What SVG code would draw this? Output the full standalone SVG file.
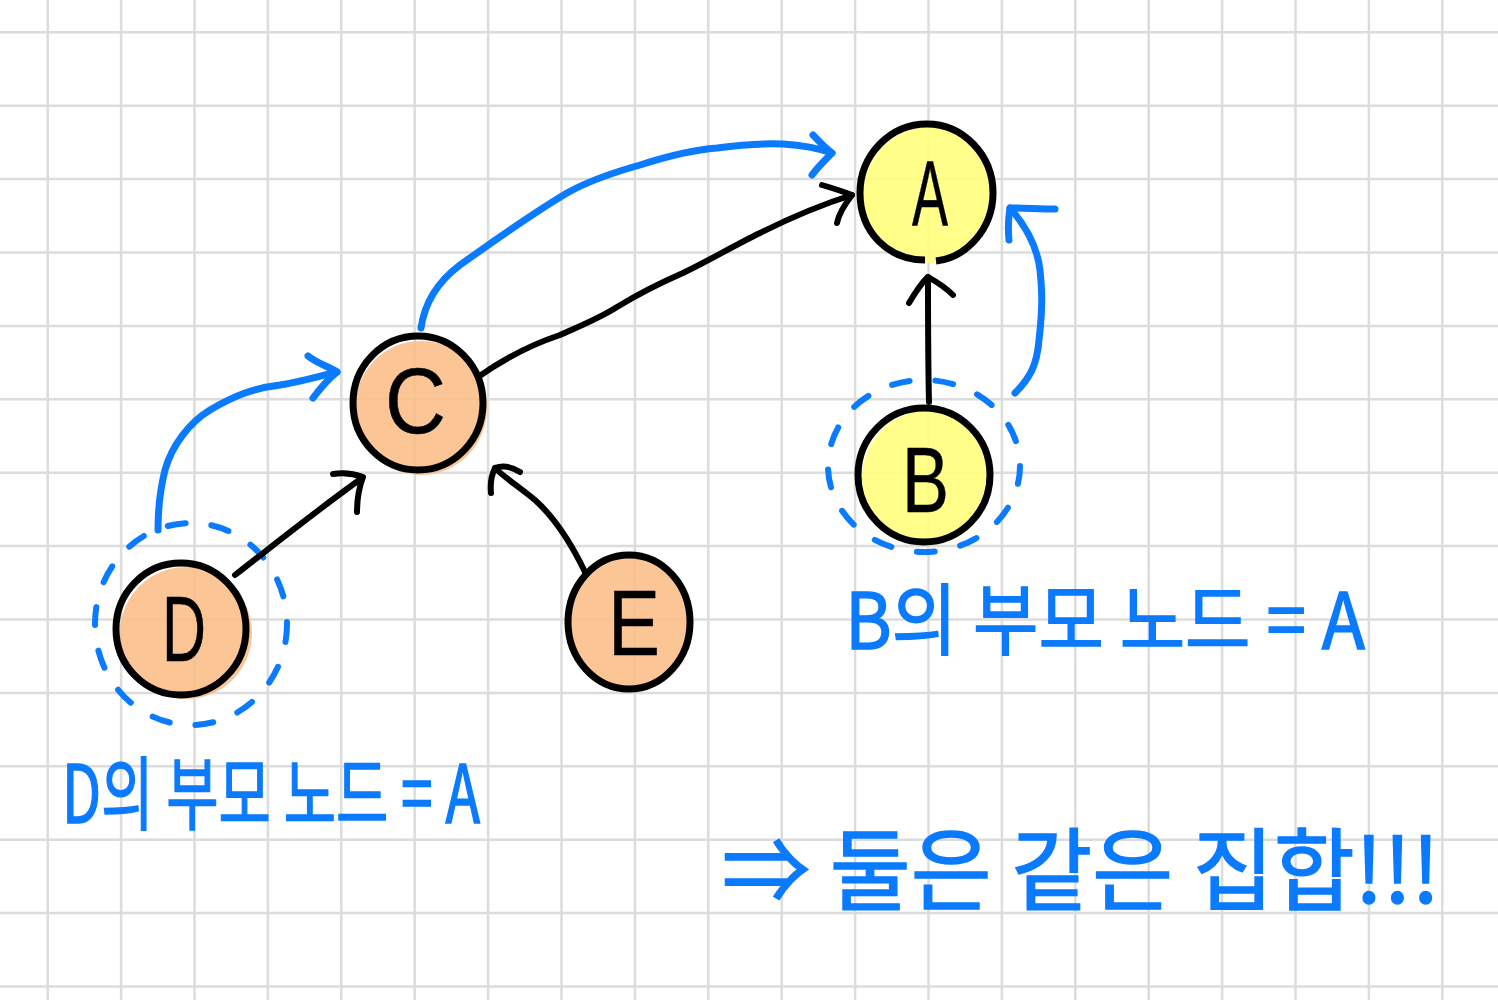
<svg xmlns="http://www.w3.org/2000/svg" width="1498" height="1000" viewBox="0 0 1498 1000">
<style>
.grid line{stroke:#dcdcdc;stroke-width:2.5}
.outline{fill:none;stroke:#000;stroke-width:7}
.fo{fill:#fcbd88;fill-opacity:0.88}
.fy{fill:#ffff7a;fill-opacity:0.88}
.lt{font-family:"Liberation Sans",Arial,sans-serif;font-size:92px;fill:#000;stroke:#000;stroke-width:0.5}
.bk{fill:none;stroke:#000;stroke-width:6;stroke-linecap:round;stroke-linejoin:round}
.bl{fill:none;stroke:#0a7aff;stroke-width:7;stroke-linecap:round;stroke-linejoin:round}
.dash{fill:none;stroke:#0a7aff;stroke-width:6;stroke-linecap:round;stroke-dasharray:18 26}
.lbl{font-family:"Noto Sans CJK KR","Liberation Sans",sans-serif;font-weight:normal;fill:#0a7aff;stroke:#0a7aff;stroke-width:1.5}
</style>
<rect width="1498" height="1000" fill="#fff"/>
<g class="grid">
<line x1="47.7" y1="0" x2="47.7" y2="1000"/><line x1="121.1" y1="0" x2="121.1" y2="1000"/><line x1="194.5" y1="0" x2="194.5" y2="1000"/><line x1="267.9" y1="0" x2="267.9" y2="1000"/><line x1="341.3" y1="0" x2="341.3" y2="1000"/><line x1="414.7" y1="0" x2="414.7" y2="1000"/><line x1="488.1" y1="0" x2="488.1" y2="1000"/><line x1="561.5" y1="0" x2="561.5" y2="1000"/><line x1="634.9" y1="0" x2="634.9" y2="1000"/><line x1="708.3" y1="0" x2="708.3" y2="1000"/><line x1="781.7" y1="0" x2="781.7" y2="1000"/><line x1="855.1" y1="0" x2="855.1" y2="1000"/><line x1="928.5" y1="0" x2="928.5" y2="1000"/><line x1="1001.9" y1="0" x2="1001.9" y2="1000"/><line x1="1075.3" y1="0" x2="1075.3" y2="1000"/><line x1="1148.7" y1="0" x2="1148.7" y2="1000"/><line x1="1222.1" y1="0" x2="1222.1" y2="1000"/><line x1="1295.5" y1="0" x2="1295.5" y2="1000"/><line x1="1368.9" y1="0" x2="1368.9" y2="1000"/><line x1="1442.3" y1="0" x2="1442.3" y2="1000"/>
<line x1="0" y1="32.3" x2="1498" y2="32.3"/><line x1="0" y1="105.7" x2="1498" y2="105.7"/><line x1="0" y1="179.1" x2="1498" y2="179.1"/><line x1="0" y1="252.5" x2="1498" y2="252.5"/><line x1="0" y1="325.9" x2="1498" y2="325.9"/><line x1="0" y1="399.3" x2="1498" y2="399.3"/><line x1="0" y1="472.7" x2="1498" y2="472.7"/><line x1="0" y1="546.1" x2="1498" y2="546.1"/><line x1="0" y1="619.5" x2="1498" y2="619.5"/><line x1="0" y1="692.9" x2="1498" y2="692.9"/><line x1="0" y1="766.3" x2="1498" y2="766.3"/><line x1="0" y1="839.7" x2="1498" y2="839.7"/><line x1="0" y1="913.1" x2="1498" y2="913.1"/><line x1="0" y1="986.5" x2="1498" y2="986.5"/>
</g>

<g id="node-A">
<ellipse class="fy" cx="929" cy="195" rx="66" ry="68"/>
<path class="outline" d="M936,261 C965,258 993,230 993,193 C993,155 963,124 927,124 C890,124 860,155 860,193 C860,232 888,260 925,260"/>
<text class="lt" x="912" y="226" textLength="36" lengthAdjust="spacingAndGlyphs">A</text>
</g>
<g id="node-B">
<ellipse class="fy" cx="927" cy="478" rx="65" ry="67"/>
<ellipse class="outline" cx="924" cy="475" rx="66" ry="67"/>
<text class="lt" x="902" y="512" textLength="47" lengthAdjust="spacingAndGlyphs">B</text>
</g>
<g id="node-C">
<ellipse class="fo" cx="421" cy="408" rx="66" ry="67"/>
<ellipse class="outline" cx="418" cy="403" rx="65" ry="67"/>
<text class="lt" x="385" y="433" textLength="61" lengthAdjust="spacingAndGlyphs">C</text>
</g>
<g id="node-D">
<ellipse class="fo" cx="186" cy="633" rx="66" ry="66"/>
<ellipse class="outline" cx="181" cy="629" rx="65" ry="66"/>
<text class="lt" x="162" y="661" textLength="44" lengthAdjust="spacingAndGlyphs">D</text>
</g>
<g id="node-E">
<ellipse class="fo" cx="631" cy="622" rx="62" ry="66"/>
<ellipse class="outline" cx="629" cy="622" rx="61" ry="67"/>
<text class="lt" x="608" y="655" textLength="52" lengthAdjust="spacingAndGlyphs">E</text>
</g>

<g id="group-D">
<ellipse class="dash" cx="191" cy="624" rx="96" ry="101"/>
</g>
<g id="group-B">
<ellipse class="dash" cx="924" cy="466" rx="96" ry="86"/>
</g>

<g id="connectors">
<path class="bk" d="M235,575 C280,540 320,508 362,478"/>
<path class="bk" d="M333,474 C345,472 355,474 363,477 C358,490 357,500 357,512"/>
<path class="bk" d="M585,572 C572,545 555,518 535,500 C518,486 505,478 495,468"/>
<path class="bk" d="M491,493 C490,483 492,474 495,468 C503,465 512,467 520,472"/>
<path class="bk" d="M478,377 C505,358 530,345 560,335 C580,326 600,318 617,307 C640,293 660,283 683,273 C710,260 735,245 760,233 C790,218 820,205 852,195"/>
<path class="bk" d="M822,185 C832,188 842,191 852,195 C845,204 839,213 837,223"/>
<path class="bk" d="M929,402 C928,360 928,320 928,277"/>
<path class="bk" d="M909,303 C915,293 921,283 928,277 C937,282 946,288 953,295"/>

<path class="bl" d="M158,530 C158,505 160,490 165,470 C172,445 190,422 210,410 C235,395 255,388 280,385 C300,382 320,376 337,372"/>
<path class="bl" d="M308,356 C318,364 328,366 337,372 C327,380 319,390 313,398"/>
<path class="bl" d="M421,328 C425,300 440,280 460,265 C495,240 530,215 567,193 C590,180 615,172 640,165 C665,157 690,150 717,148 C740,145 760,143 783,144 C800,145 818,148 832,153"/>
<path class="bl" d="M813,135 C820,142 825,148 832,153 C825,160 817,168 812,175"/>
<path class="bl" d="M1015,393 C1030,378 1037,365 1039,340 C1043,305 1042,290 1040,270 C1037,245 1025,225 1010,208"/>
<path class="bl" d="M1055,209 C1040,209 1025,208 1010,208 C1008,220 1008,230 1009,240"/>
</g>

<text class="lbl" x="62" y="823" font-size="80" textLength="418" lengthAdjust="spacingAndGlyphs">D의 부모 노드 = A</text>
<text class="lbl" x="845" y="649" font-size="78" textLength="520" lengthAdjust="spacingAndGlyphs">B의 부모 노드 = A</text>
<text class="lbl" x="722" y="903" font-size="90" textLength="718" lengthAdjust="spacingAndGlyphs">⇒ 둘은 같은 집합!!!</text>
</svg>
